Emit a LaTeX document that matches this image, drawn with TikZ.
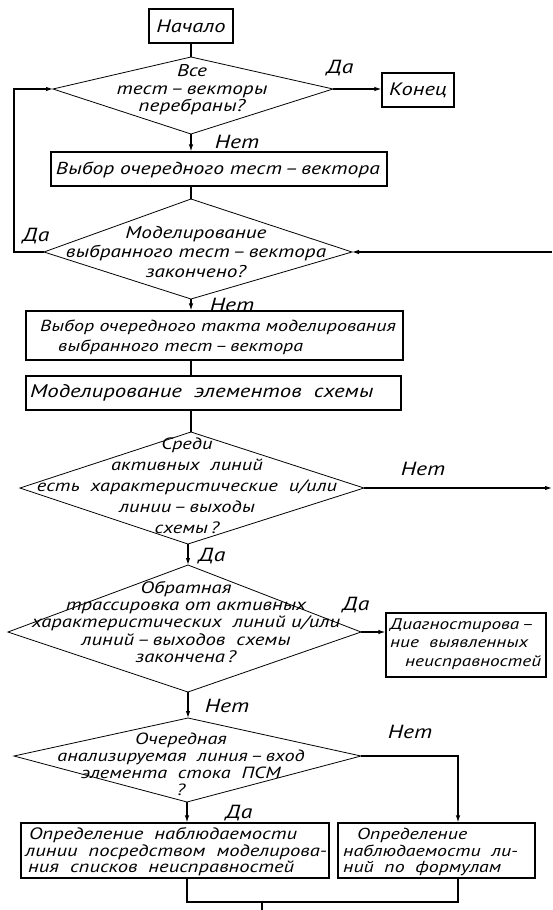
\documentclass[tikz,border=0pt]{standalone}
\usepackage{fontspec}
\setmainfont{PT Sans}[FakeStretch=1.25]
\usetikzlibrary{arrows.meta}
\newcommand{\fs}[2]{\itshape\fontsize{#1}{#2}\selectfont}
\begin{document}
\begin{tikzpicture}[x=1pt,y=-1pt,
  box/.style={draw, line width=1.2pt, inner sep=0pt},
  dia/.style={draw, line width=0.8pt, line join=miter},
  con/.style={line width=1.1pt},
  arr/.style={con, -{Latex[length=7pt,width=4.5pt]}},
  txt/.style={align=center, inner sep=0pt},
  ltxt/.style={align=left, inner sep=0pt, anchor=west},
  lab/.style={font=\fs{19}{20}, inner sep=0pt}
]
\path[use as bounding box] (0,0) rectangle (552,910);

% start / end
\node[box, minimum width=84pt, minimum height=34pt, font=\fs{18}{20}] (start) at (191,26) {Начало};
\node[box, minimum width=72pt, minimum height=34pt, font=\fs{18}{20}] (end) at (418,90) {Конец};

% diamond 1
\coordinate (d1t) at (191,57);
\coordinate (d1l) at (53,89);
\coordinate (d1r) at (333,89);
\coordinate (d1b) at (191,134);
\draw[dia] (d1t) -- (d1r) -- (d1b) -- (d1l) -- cycle;
\node[txt, font=\fs{17}{17.5}] (d1x) at (192,90) {Все\\тест\,–\,векторы\\перебраны?};
\draw[con] (start) -- (d1t);
\draw[arr] (d1r) -- (end.west |- d1r);
\node[lab] (l1) at (340,68) {Да};
\node[lab] (l2) at (237,142) {Нет};

% box 2
\node[box, minimum width=336pt, minimum height=34pt] (b2) at (219,169) {};
\node[txt, font=\fs{17.3}{18}] (b2x) at (218,170) {Выбор очередного тест\,–\,вектора};
\draw[arr] (d1b) -- (d1b |- b2.north);

% diamond 2
\coordinate (d2t) at (191,199);
\coordinate (d2l) at (44,252);
\coordinate (d2r) at (352,252);
\coordinate (d2b) at (191,299);
\draw[dia] (d2t) -- (d2r) -- (d2b) -- (d2l) -- cycle;
\node[txt, font=\fs{17}{19.5}] (d2x) at (196,252) {Моделирование\\выбранного тест\,–\,вектора\\закончено?};
\draw[con] (d2t |- b2.south) -- (d2t);
\coordinate (lpb) at (14,252);
\coordinate (lpt) at (14,89);
\draw[arr] (d2l) -- (lpb) -- (lpt) -- (d1l);
\node[lab] (l3) at (36,236) {Да};
\coordinate (rin) at (552,252);
\draw[arr] (rin) -- (d2r);
\node[lab] (l4) at (232,305) {Нет};

% box 3
\node[box, minimum width=377pt, minimum height=49pt] (b3) at (214.5,335.5) {};
\node[ltxt, font=\fs{16}{20}] (b3x) at (40,337) {Выбор очередного такта моделирования\\\hspace*{18pt}выбранного тест\,–\,вектора};
\draw[arr] (d2b) -- (d2b |- b3.north);

% box 4
\node[box, minimum width=375pt, minimum height=34pt] (b4) at (213.5,393) {};
\node[ltxt, font=\fs{18.3}{20}] (b4x) at (30,393) {Моделирование\ \ элементов\ \ схемы};
\draw[con] (d2t |- b3.south) -- (d2t |- b4.north);

% diamond 3
\coordinate (d3t) at (191,432);
\coordinate (d3l) at (20,488);
\coordinate (d3r) at (364,488);
\coordinate (d3b) at (188,544);
\draw[dia] (d3t) -- (d3r) -- (d3b) -- (d3l) -- cycle;
\node[txt, font=\fs{16.4}{21}] (d3x) at (187,486) {Среди\\активных\ \ линий\\есть\ \ характеристические\ \ и/или\\линии\,–\,выходы\\схемы\,?};
\draw[con] (d3t |- b4.south) -- (d3t);
\coordinate (rout) at (552,488);
\draw[arr] (d3r) -- (rout);
\node[lab] (l5) at (423,469) {Нет};

% diamond 4
\coordinate (d4t) at (188,565);
\coordinate (d4l) at (8,632);
\coordinate (d4r) at (361,632);
\coordinate (d4b) at (188,692);
\draw[dia] (d4t) -- (d4r) -- (d4b) -- (d4l) -- cycle;
\node[txt, font=\fs{16.6}{17.3}] (d4x) at (186,622) {Обратная\\трассировка от активных\\характеристических\ \ линий и/или\\линий\,–\,выходов\ \ схемы\\закончена\,?};
\draw[arr] (d3b) -- (d4t);
\node[lab] (l6) at (212,556) {Да};
\node[lab] (l7) at (356,605) {Да};

% box 5
\node[box, minimum width=160pt, minimum height=64pt] (b5) at (466,645) {};
\node[ltxt, font=\fs{15.4}{18.5}] (b5x) at (390,644) {Диагностирова\,–\\ние\ \ выявленных\\\hspace*{15pt}неисправностей};
\draw[arr] (d4r) -- (b5.west |- d4r);

% diamond 5
\coordinate (d5t) at (188,718);
\coordinate (d5l) at (14,756);
\coordinate (d5r) at (361,756);
\coordinate (d5b) at (187,802);
\draw[dia] (d5t) -- (d5r) -- (d5b) -- (d5l) -- cycle;
\node[txt, font=\fs{16.2}{17}] (d5x) at (181,764) {Очередная\\анализируемая\ \ линия\,–\,вход\\элемента\ \ стока\ \ ПСМ\\?};
\draw[arr] (d4b) -- (d5t);
\node[lab] (l8) at (227,706) {Нет};
\node[lab] (l9) at (410,732) {Нет};

% boxes 6, 7
\node[box, minimum width=308pt, minimum height=55pt] (b6) at (175,850.5) {};
\node[ltxt, font=\fs{16.5}{16.5}] (b6x) at (25,852) {\hspace*{4pt}Определение\ \ наблюдаемости\\линии\ \ посредством\ \ моделирова-\\\hspace*{3pt}ния\ \ списков\ \ неисправностей};
\node[box, minimum width=197pt, minimum height=55pt] (b7) at (436.5,850.5) {};
\node[ltxt, font=\fs{15.9}{16.5}] (b7x) at (343,852) {\hspace*{14pt}Определение\\наблюдаемости\ \ ли-\\ний\ \ по\ \ формулам};
\coordinate (d5c) at (458,756);
\draw[arr] (d5r) -- (d5c) -- (d5c |- b7.north);
\draw[arr] (d5b) -- (d5b |- b6.north);
\node[lab] (l10) at (239,813) {Да};

% bottom join
\coordinate (j1) at (187,902);
\coordinate (j2) at (458,902);
\coordinate (j3) at (262,902);
\coordinate (j4) at (262,910);
\draw[con] (d5b |- b6.south) -- (j1) -- (j2) -- (d5c |- b7.south);
\draw[con] (j3) -- (j4);
\end{tikzpicture}
\end{document}
